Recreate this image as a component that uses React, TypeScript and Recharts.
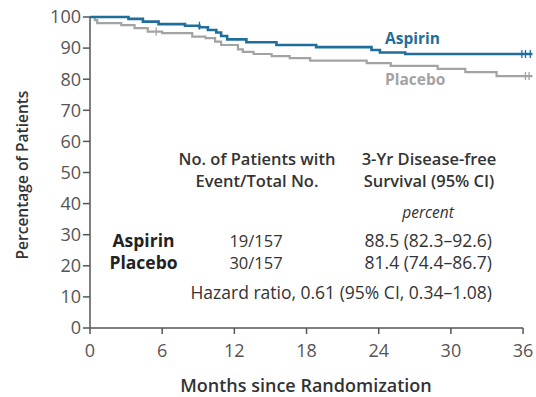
import React from 'react';
import { ComposedChart, Line, Scatter, XAxis, YAxis, ReferenceLine } from 'recharts';

const aspirinCurve = [
  { t: 0, s: 100 }, { t: 3.2, s: 99.4 }, { t: 4.4, s: 98.5 }, { t: 5.7, s: 97.7 },
  { t: 7.9, s: 97.2 }, { t: 9.1, s: 96.7 }, { t: 9.8, s: 95.8 }, { t: 10.5, s: 95.0 },
  { t: 10.9, s: 93.9 }, { t: 11.4, s: 92.8 }, { t: 13.0, s: 91.9 }, { t: 15.5, s: 91.0 },
  { t: 18.8, s: 90.3 }, { t: 23.4, s: 89.4 }, { t: 24.1, s: 88.6 }, { t: 26.2, s: 88.1 },
  { t: 36.8, s: 88.1 },
];

const placeboCurve = [
  { t: 0, s: 100 }, { t: 0.4, s: 99.0 }, { t: 0.6, s: 98.0 }, { t: 2.6, s: 97.4 },
  { t: 3.7, s: 96.4 }, { t: 4.8, s: 95.3 }, { t: 6.0, s: 94.8 }, { t: 8.5, s: 93.7 },
  { t: 9.6, s: 93.2 }, { t: 10.4, s: 92.1 }, { t: 10.9, s: 91.0 }, { t: 12.3, s: 89.6 },
  { t: 12.7, s: 88.8 }, { t: 13.6, s: 88.1 }, { t: 15.1, s: 87.4 }, { t: 16.6, s: 86.8 },
  { t: 18.3, s: 86.0 }, { t: 23.0, s: 85.2 }, { t: 25.0, s: 84.3 }, { t: 28.9, s: 83.3 },
  { t: 31.2, s: 82.3 }, { t: 33.8, s: 81.0 }, { t: 36.8, s: 81.0 },
];

const aspirinCensor = [{ t: 9.1, s: 97.2 }, { t: 35.9, s: 88.1 }, { t: 36.2, s: 88.1 }, { t: 36.6, s: 88.1 }];
const placeboCensor = [{ t: 5.5, s: 95.3 }, { t: 36.2, s: 81.0 }, { t: 36.5, s: 81.0 }];

const xTicks = [0, 6, 12, 18, 24, 30, 36];
const yTicks = [0, 10, 20, 30, 40, 50, 60, 70, 80, 90, 100];

const tableHeaders = [
  ['No. of Patients with', 'Event/Total No.'],
  ['3-Yr Disease-free', 'Survival (95% CI)'],
];
const groups = ['Aspirin', 'Placebo'];
const events = ['19/157', '30/157'];
const survival = ['88.5 (82.3\u201392.6)', '81.4 (74.4\u201386.7)'];
const hazardText = 'Hazard ratio, 0.61 (95% CI, 0.34\u20131.08)';

const BLUE = '#1f6e9c';
const GRAY = '#a3a3a3';
const AXIS = '#555555';
const TEXT = '#333333';
const FONT = '"Open Sans", sans-serif';

const censorShape = (color: string) => (props: any) => {
  const { cx, cy } = props;
  if (cx == null || cy == null) return <g />;
  return <line x1={cx} x2={cx} y1={cy - 4} y2={cy + 4} stroke={color} strokeWidth={1.3} />;
};

export default function App() {
  return (
    <div style={{ position: 'absolute', left: 0, top: 0, width: 536, height: 397, background: '#fff', fontFamily: FONT }}>
      <ComposedChart width={536} height={397} margin={{ top: 17, right: 3.3, left: 30, bottom: 39 }}>
        <XAxis
          type="number"
          dataKey="t"
          domain={[0, 36.8]}
          ticks={xTicks}
          allowDataOverflow
          axisLine={false}
          tickSize={6}
          tickMargin={10}
          height={30}
          tickLine={{ stroke: AXIS, strokeWidth: 1.5 }}
          tick={{ fill: '#555', fontSize: 18, fontFamily: FONT }}
        />
        <YAxis
          type="number"
          dataKey="s"
          domain={[0, 100]}
          ticks={yTicks}
          width={60}
          tickSize={7}
          tickMargin={2}
          axisLine={{ stroke: AXIS, strokeWidth: 1.5 }}
          tickLine={{ stroke: AXIS, strokeWidth: 1.5 }}
          tick={{ fill: '#555', fontSize: 18, fontFamily: FONT }}
        />
        <ReferenceLine segment={[{ x: 0, y: 0 }, { x: 36, y: 0 }]} stroke={AXIS} strokeWidth={1.5} ifOverflow="visible" />
        <Line data={placeboCurve} dataKey="s" type="stepAfter" stroke={GRAY} strokeWidth={2.2} dot={false} isAnimationActive={false} />
        <Line data={aspirinCurve} dataKey="s" type="stepAfter" stroke={BLUE} strokeWidth={2.6} dot={false} isAnimationActive={false} />
        <Scatter data={placeboCensor} dataKey="s" shape={censorShape(GRAY)} isAnimationActive={false} />
        <Scatter data={aspirinCensor} dataKey="s" shape={censorShape(BLUE)} isAnimationActive={false} />
      </ComposedChart>
      <svg width={536} height={397} style={{ position: 'absolute', left: 0, top: 0, pointerEvents: 'none' }} fontFamily={FONT}>
        <text x={22} y={175} transform="rotate(-90 22 175)" textAnchor="middle" dominantBaseline="central" fontSize={15.5} fontWeight={600} fill={TEXT}>Percentage of Patients</text>
        <text x={306} y={385} textAnchor="middle" dominantBaseline="central" fontSize={18} fontWeight={600} fill={TEXT}>Months since Randomization</text>
        <text x={385} y={38} dominantBaseline="central" fontSize={15.5} fontWeight={700} fill={BLUE}>{groups[0]}</text>
        <text x={385} y={79} dominantBaseline="central" fontSize={15.5} fontWeight={700} fill={GRAY}>{groups[1]}</text>
        <text x={257} y={158} textAnchor="middle" dominantBaseline="central" fontSize={16.5} fontWeight={600} fill={TEXT}>{tableHeaders[0][0]}</text>
        <text x={257} y={180} textAnchor="middle" dominantBaseline="central" fontSize={16.5} fontWeight={600} fill={TEXT}>{tableHeaders[0][1]}</text>
        <text x={429} y={158} textAnchor="middle" dominantBaseline="central" fontSize={16.5} fontWeight={600} fill={TEXT}>{tableHeaders[1][0]}</text>
        <text x={429} y={180} textAnchor="middle" dominantBaseline="central" fontSize={16.5} fontWeight={600} fill={TEXT}>{tableHeaders[1][1]}</text>
        <text x={428} y={212} textAnchor="middle" dominantBaseline="central" fontSize={15.5} fontStyle="italic" fill={TEXT}>percent</text>
        {groups.map((g, i) => (
          <g key={g}>
            <text x={143.5} y={240 + i * 22} textAnchor="middle" dominantBaseline="central" fontSize={17.5} fontWeight={700} fill={'#222'}>{g}</text>
            <text x={256} y={240 + i * 22} textAnchor="middle" dominantBaseline="central" fontSize={16.5} fill={TEXT}>{events[i]}</text>
            <text x={492} y={240 + i * 22} textAnchor="end" dominantBaseline="central" fontSize={17.5} fill={TEXT}>{survival[i]}</text>
          </g>
        ))}
        <text x={492} y={292} textAnchor="end" dominantBaseline="central" fontSize={17.5} fill={TEXT}>{hazardText}</text>
      </svg>
    </div>
  );
}
